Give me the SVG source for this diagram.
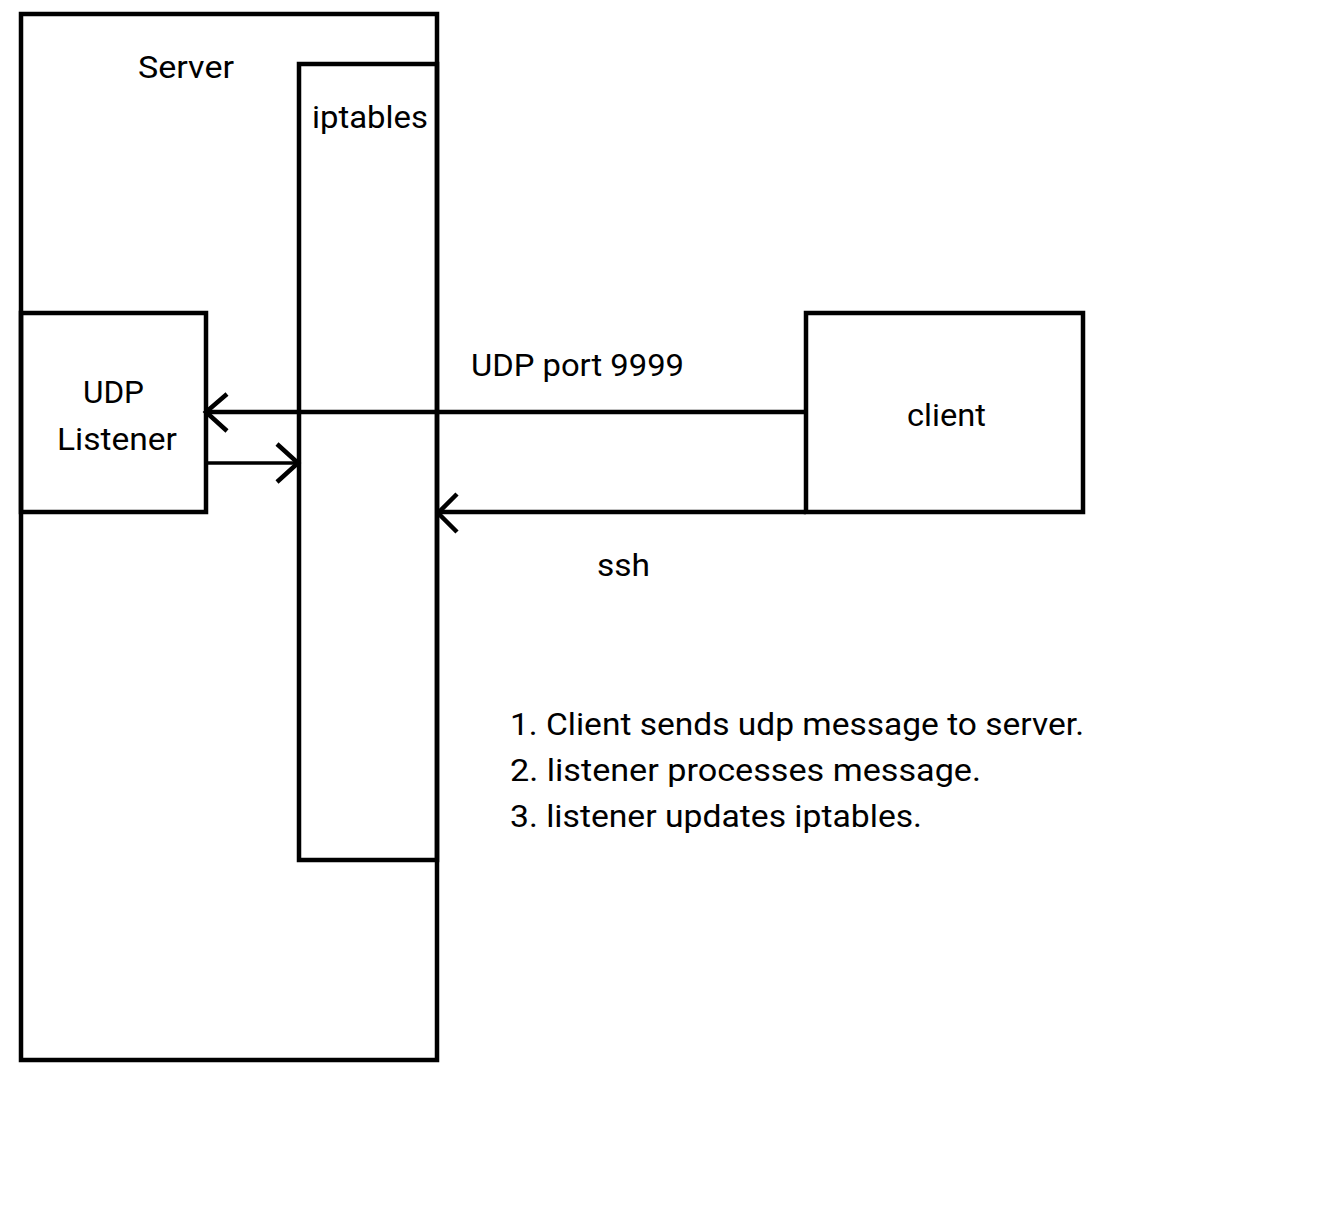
<svg xmlns="http://www.w3.org/2000/svg" width="1342" height="1215" viewBox="0 0 1342 1215">
<style>
.box{fill:none;stroke:#000;stroke-width:4.5}
.ln{fill:none;stroke:#000;stroke-width:4.5;stroke-linecap:butt}
.thin{stroke-width:3.5}
.ah{fill:none;stroke:#000;stroke-width:4.5;stroke-linecap:butt;stroke-linejoin:miter}
text{font-family:Roboto,"Liberation Sans",sans-serif;font-size:31px;fill:#000}
</style>
<rect width="1342" height="1215" fill="#fff"/>
<g id="server">
<rect class="box" x="21" y="14" width="416" height="1046"/>
<text x="138" y="78" textLength="96" lengthAdjust="spacingAndGlyphs">Server</text>
</g>
<g id="iptables">
<rect class="box" x="299" y="64" width="138" height="796"/>
<text x="312" y="128" textLength="116" lengthAdjust="spacingAndGlyphs">iptables</text>
</g>
<g id="udp-listener">
<rect class="box" x="21" y="313" width="185" height="199"/>
<text x="83" y="403" textLength="61" lengthAdjust="spacingAndGlyphs">UDP</text>
<text x="57" y="450" textLength="120" lengthAdjust="spacingAndGlyphs">Listener</text>
</g>
<g id="client">
<rect class="box" x="806" y="313" width="277" height="199"/>
<text x="907" y="426" textLength="79" lengthAdjust="spacingAndGlyphs">client</text>
</g>
<g id="connectors">
<line class="ln" x1="806" y1="412" x2="206" y2="412"/>
<polyline class="ah" points="227,394 206,412 227,431"/>
<line class="ln thin" x1="206" y1="463" x2="298" y2="463"/>
<polyline class="ah" points="277,444 298,463 277,482"/>
<line class="ln" x1="806" y1="512" x2="438" y2="512"/>
<polyline class="ah" points="457,494 438,513 457,532"/>
<text x="471" y="376" textLength="213" lengthAdjust="spacingAndGlyphs">UDP port 9999</text>
<text x="597" y="576" textLength="53" lengthAdjust="spacingAndGlyphs">ssh</text>
</g>
<g id="notes">
<text x="510" y="735" textLength="574" lengthAdjust="spacingAndGlyphs">1. Client sends udp message to server.</text>
<text x="510" y="781" textLength="471" lengthAdjust="spacingAndGlyphs">2. listener processes message.</text>
<text x="510" y="827" textLength="412" lengthAdjust="spacingAndGlyphs">3. listener updates iptables.</text>
</g>
</svg>
